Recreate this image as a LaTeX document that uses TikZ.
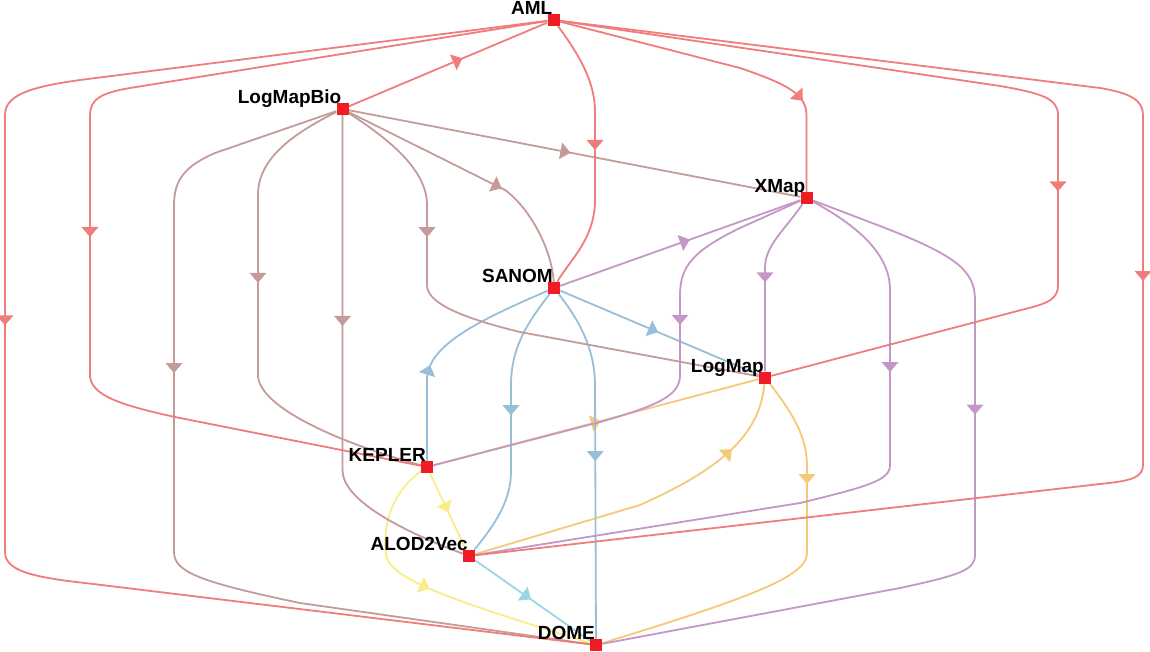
\documentclass[tikz,border=0pt]{standalone}
\usepackage{fontspec}
\setmainfont{Liberation Sans}
\definecolor{cR}{HTML}{F07C7C}
\definecolor{cB}{HTML}{C49B99}
\definecolor{cP}{HTML}{C497C6}
\definecolor{cS}{HTML}{98BFD8}
\definecolor{cO}{HTML}{F5C979}
\definecolor{cY}{HTML}{F9EE84}
\definecolor{cC}{HTML}{98D7E4}
\definecolor{cN}{HTML}{EE1D25}
\pgfdeclarelayer{bg}
\pgfsetlayers{bg,main}
\tikzset{
  arr/.pic={\fill (-5pt,-8.5pt) -- (5pt,0pt) -- (-5pt,8.5pt) -- cycle;},
  ew/.style={line width=1.8pt},
  sq/.style={rectangle, fill=cN, draw=none, inner sep=0pt, minimum size=12pt},
  lab/.style={anchor=base east, inner sep=0pt, font=\bfseries\fontsize{19}{19}\selectfont},
}
\begin{document}
\begin{tikzpicture}[x=1pt,y=-1pt]
\useasboundingbox (0,0) rectangle (1150,652);
\node[sq] (AML) at (553.5,20) {};
\node[sq] (LMB) at (342.5,109) {};
\node[sq] (XMap) at (806.5,198) {};
\node[sq] (SANOM) at (554,288) {};
\node[sq] (LogMap) at (765,377.5) {};
\node[sq] (KEPLER) at (427,467) {};
\node[sq] (ALOD) at (469,556) {};
\node[sq] (DOME) at (596,645) {};
\node[lab] (lAML) at (552.5,14.5) {AML};
\node[lab] (lLMB) at (341.5,103.5) {LogMapBio};
\node[lab] (lXMap) at (805.5,192.5) {XMap};
\node[lab] (lSANOM) at (553,282.5) {SANOM};
\node[lab] (lLogMap) at (764,372) {LogMap};
\node[lab] (lKEPLER) at (426,461.5) {KEPLER};
\node[lab] (lALOD) at (468,550.5) {ALOD2Vec};
\node[lab] (lDOME) at (595,639.5) {DOME};
\begin{pgfonlayer}{bg}
% ALOD2Vec
\draw[ew,cC] (ALOD) -- pic[pos=.45,sloped]{arr} (DOME);
% KEPLER
\draw[ew,cY] (KEPLER) -- pic[pos=.45,sloped]{arr} (ALOD);
\draw[ew,cY] (KEPLER) .. controls (395,490) and (382,520) .. (386,555) .. controls (390,582) and (470,605) .. pic[pos=.4,sloped]{arr} (DOME);
% LogMap
\draw[ew,cO] (LogMap) -- pic[pos=.5,sloped]{arr} (KEPLER);
\draw[ew,cO] (LogMap) .. controls (760,430) and (730,465) .. pic[pos=.55,sloped]{arr} (640,505) -- (ALOD);
\draw[ew,cO] (LogMap) .. controls (790,410) and (807,435) .. (807,465) -- pic[pos=.16,sloped]{arr} (807,553) .. controls (807,575) and (760,595) .. (DOME);
% SANOM
\draw[ew,cS] (SANOM) -- pic[pos=.47,sloped]{arr} (LogMap);
\draw[ew,cS] (SANOM) .. controls (480,320) and (427,345) .. pic[pos=.9,sloped]{arr} (427,380) -- (KEPLER);
\draw[ew,cS] (SANOM) .. controls (530,320) and (511,345) .. (511,385) -- pic[pos=.29,sloped]{arr} (511,472) .. controls (511,500) and (495,525) .. (ALOD);
\draw[ew,cS] (SANOM) .. controls (575,315) and (595,345) .. (595,385) -- pic[pos=.28,sloped]{arr} (DOME);
% XMap
\draw[ew,cP] (XMap) -- pic[pos=.48,sloped]{arr} (SANOM);
\draw[ew,cP] (XMap) .. controls (785,230) and (765,245) .. (765,268) -- pic[pos=.09,sloped]{arr} (LogMap);
\draw[ew,cP] (XMap) -- (740,228) .. controls (695,250) and (680,265) .. (680,295) -- pic[pos=.31,sloped]{arr} (680,375) .. controls (680,395) and (660,405) .. (600,422) -- (KEPLER);
\draw[ew,cP] (XMap) .. controls (850,222) and (890,250) .. (890,290) -- pic[pos=.44,sloped]{arr} (890,465) .. controls (890,480) and (870,486) .. (800,503) -- (ALOD);
\draw[ew,cP] (XMap) -- (880,226) .. controls (955,255) and (975,270) .. (975,300) -- pic[pos=.43,sloped]{arr} (975,555) .. controls (975,570) and (960,575) .. (900,588) -- (DOME);
% LogMapBio
\draw[ew,cB] (LMB) -- pic[pos=.48,sloped]{arr} (XMap);
\draw[ew,cB] (LMB) -- pic[pos=.95,sloped]{arr} (505,190) .. controls (530,208) and (552,250) .. (SANOM);
\draw[ew,cB] (LMB) .. controls (390,140) and (427,170) .. (427,205) -- pic[pos=.34,sloped]{arr} (427,285) .. controls (427,300) and (450,315) .. (520,332) -- (LogMap);
\draw[ew,cB] (LMB) .. controls (290,135) and (258,160) .. (258,195) -- pic[pos=.46,sloped]{arr} (258,375) .. controls (258,405) and (330,440) .. (KEPLER);
\draw[ew,cB] (LMB) -- pic[pos=.58,sloped]{arr} (342.5,470) .. controls (342.5,500) and (400,530) .. (ALOD);
\draw[ew,cB] (LMB) -- (215,153) .. controls (185,166) and (174,180) .. (174,205) -- pic[pos=.47,sloped]{arr} (174,552) .. controls (174,572) and (200,582) .. (300,603) -- (DOME);
% AML
\draw[ew,cR] (AML) -- pic[pos=.45,sloped]{arr} (LMB);
\draw[ew,cR] (AML) .. controls (583,60) and (595,85) .. (595,112) -- pic[pos=.375,sloped]{arr} (595,200) .. controls (595,240) and (568,262) .. (SANOM);
\draw[ew,cR] (AML) -- (740,68) .. controls (790,85) and (806,95) .. pic[pos=.65,sloped]{arr} (806.5,115) -- (XMap);
\draw[ew,cR] (AML) -- (130,88) .. controls (100,93) and (90,100) .. (90,115) -- pic[pos=.45,sloped]{arr} (90,375) .. controls (90,395) and (120,405) .. (175,417) -- (KEPLER);
\draw[ew,cR] (AML) -- (80,80) .. controls (30,87) and (5,95) .. (5,115) -- pic[pos=.47,sloped]{arr} (5,552) .. controls (5,570) and (30,577) .. (85,583) -- (DOME);
\draw[ew,cR] (AML) -- (1000,86) .. controls (1040,93) and (1058,98) .. (1058,115) -- pic[pos=.42,sloped]{arr} (1058,285) .. controls (1058,298) and (1050,303) .. (1025,309) -- (LogMap);
\draw[ew,cR] (AML) -- (1100,88) .. controls (1130,93) and (1143,100) .. (1143,115) -- pic[pos=.46,sloped]{arr} (1143,465) .. controls (1143,478) and (1130,481) .. (1100,484) -- (ALOD);
\end{pgfonlayer}
\end{tikzpicture}
\end{document}
